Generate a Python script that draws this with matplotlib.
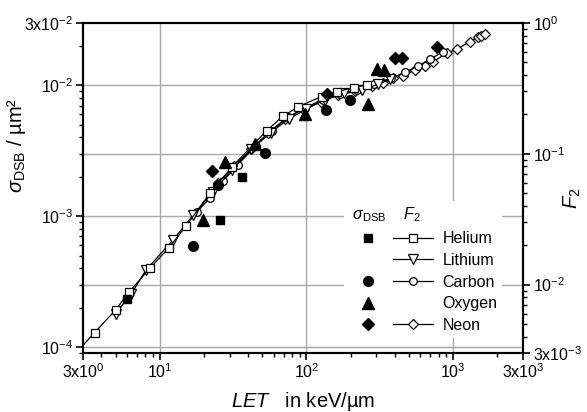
import numpy as np
import matplotlib.pyplot as plt
from matplotlib.lines import Line2D
from matplotlib.legend_handler import HandlerTuple
from matplotlib.ticker import NullFormatter

plt.rcParams['font.family'] = ['Liberation Sans', 'DejaVu Sans']
plt.rcParams['mathtext.fontset'] = 'custom'
plt.rcParams['mathtext.rm'] = 'Liberation Sans'
plt.rcParams['mathtext.it'] = 'Liberation Sans:italic'
plt.rcParams['mathtext.bf'] = 'Liberation Sans:bold'

# F2 (open symbols + line, right axis)
he_let = [2.5, 3.6, 5.0, 6.2, 8.6, 11.5, 15.1, 22, 31, 53.5, 69, 88, 127, 161, 210, 258]
he_f2 = [0.00274, 0.0043, 0.0064, 0.0088, 0.0134, 0.019, 0.028, 0.050, 0.079, 0.150,
         0.193, 0.229, 0.274, 0.299, 0.32, 0.336]

li_let = [5.0, 6.4, 8.1, 12.4, 16.9, 23, 31, 42, 57, 76, 100, 135, 180, 240, 310, 370]
li_f2 = [0.0060, 0.0085, 0.0130, 0.0221, 0.034, 0.051, 0.075, 0.108, 0.145, 0.185,
         0.22, 0.26, 0.29, 0.31, 0.34, 0.37]

c_let = [18, 22, 27, 34, 45, 58, 75, 98, 130, 170, 220, 290, 380, 470, 580, 700, 850]
c_f2 = [0.036, 0.046, 0.062, 0.082, 0.115, 0.15, 0.19, 0.225, 0.26, 0.285, 0.31, 0.34,
        0.38, 0.42, 0.47, 0.53, 0.60]

ne_let = [25, 32, 42, 55, 72, 95, 125, 165, 215, 280, 333, 389, 455, 549, 640, 733, 903,
          1067, 1302, 1474, 1563, 1650]
ne_f2 = [0.060, 0.080, 0.108, 0.145, 0.185, 0.22, 0.25, 0.28, 0.30, 0.33, 0.347, 0.378,
         0.394, 0.438, 0.47, 0.507, 0.587, 0.633, 0.72, 0.778, 0.796, 0.82]

# sigma_DSB (filled symbols, left axis)
he_s_let = [5.95, 25.7, 36.2]
he_s = [2.31e-4, 9.3e-4, 2.0e-3]

c_s_let = [16.9, 24.8, 52.1, 137, 198]
c_s = [5.93e-4, 1.73e-3, 3.04e-3, 6.44e-3, 7.68e-3]

o_s_let = [19.8, 27.7, 44.6, 97.6, 264, 301, 338]
o_s = [9.3e-4, 2.6e-3, 3.54e-3, 6.08e-3, 7.25e-3, 1.34e-2, 1.30e-2]

ne_s_let = [22.6, 139, 402, 446, 780]
ne_s = [2.22e-3, 8.6e-3, 1.61e-2, 1.61e-2, 1.96e-2]

fig = plt.figure(figsize=(5.87, 4.12), dpi=100)
ax = fig.add_axes([0.1414, 0.1432, 0.7496, 0.801])
ax2 = ax.twinx()
ax.set_zorder(ax2.get_zorder() + 1)
ax.patch.set_visible(False)

ax.set_xscale('log')
ax.set_yscale('log')
ax2.set_yscale('log')
ax.set_xlim(3, 3000)
ax.set_ylim(9e-5, 3e-2)
ax2.set_ylim(3e-3, 1)

# grid (drawn on the back axes)
gc = '#a8a8a8'
for xv in [10, 100, 1000]:
    ax2.axvline(xv, color=gc, lw=1.0, zorder=0)
for yv in [1e-4, 1e-3, 1e-2]:
    ax2.axhline(yv / 0.03, color=gc, lw=1.0, zorder=0)
for yv in [1e-2, 1e-1]:
    ax2.axhline(yv, color=gc, lw=1.0, zorder=0)

lkw = dict(color='k', lw=0.9, mfc='white', mec='k', mew=0.9)
ax2.plot(ne_let, ne_f2, marker='D', ms=5.2, **lkw)
ax2.plot(c_let, c_f2, marker='o', ms=5.5, **lkw)
ax2.plot(li_let, li_f2, marker='v', ms=6.5, **lkw)
ax2.plot(he_let, he_f2, marker='s', ms=5.5, **lkw)

ax.plot(he_s_let, he_s, ls='none', marker='s', ms=6, color='k')
ax.plot(c_s_let, c_s, ls='none', marker='o', ms=7, color='k')
ax.plot(o_s_let, o_s, ls='none', marker='^', ms=8, color='k')
ax.plot(ne_s_let, ne_s, ls='none', marker='D', ms=6.5, color='k')

ax.set_xticks([3, 10, 100, 1000, 3000])
ax.set_xticklabels([r'$\mathrm{3x10^{0}}$', r'$\mathrm{10^{1}}$', r'$\mathrm{10^{2}}$',
                    r'$\mathrm{10^{3}}$', r'$\mathrm{3x10^{3}}$'])
ax.set_yticks([1e-4, 1e-3, 1e-2, 3e-2])
ax.set_yticklabels([r'$\mathrm{10^{-4}}$', r'$\mathrm{10^{-3}}$', r'$\mathrm{10^{-2}}$',
                    r'$\mathrm{3x10^{-2}}$'])
ax2.set_yticks([3e-3, 1e-2, 1e-1, 1])
ax2.set_yticklabels([r'$\mathrm{3x10^{-3}}$', r'$\mathrm{10^{-2}}$', r'$\mathrm{10^{-1}}$',
                     r'$\mathrm{10^{0}}$'])
for a in (ax.xaxis, ax.yaxis, ax2.yaxis):
    a.set_minor_formatter(NullFormatter())

for a in (ax, ax2):
    a.tick_params(which='major', direction='out', length=5, width=1.2, labelsize=11.5, pad=2)
    a.tick_params(which='minor', direction='out', length=3, width=1.0)
    for s in a.spines.values():
        s.set_linewidth(1.5)
ax.tick_params(top=False, right=False, which='both')

ax.set_xlabel(r'$\mathit{LET}$   in keV/µm', fontsize=14.5)
ax.xaxis.set_label_coords(0.5, -0.112)
ax.set_ylabel(r'$\sigma_{\mathrm{DSB}}$ / µm²', fontsize=14.5)
ax.yaxis.set_label_coords(-0.125, 0.63)
ax2.set_ylabel(r'$F_{2}$', fontsize=14.5)
ax2.yaxis.set_label_coords(1.088, 0.47)

# legend: sigma_DSB column + F2 column
blank = Line2D([], [], ls='none')
rows = [
    (Line2D([], [], ls='none', marker='s', ms=6, color='k'),
     Line2D([], [], marker='s', ms=5.5, **lkw)),
    (blank, Line2D([], [], marker='v', ms=6.5, **lkw)),
    (Line2D([], [], ls='none', marker='o', ms=7, color='k'),
     Line2D([], [], marker='o', ms=5.5, **lkw)),
    (Line2D([], [], ls='none', marker='^', ms=8, color='k'), blank),
    (Line2D([], [], ls='none', marker='D', ms=6.5, color='k'),
     Line2D([], [], marker='D', ms=5.2, **lkw)),
]
names = ['Helium', 'Lithium', 'Carbon', 'Oxygen', 'Neon']
leg = ax.legend(rows, names, handler_map={tuple: HandlerTuple(ndivide=None, pad=0.3)},
                loc='upper left', bbox_to_anchor=(0.574, 0.485), fontsize=11.5,
                handlelength=5.3, handletextpad=0.6, labelspacing=0.42,
                title=r' $\sigma_{\mathrm{DSB}}$    $F_{2}$', title_fontsize=11.5,
                alignment='left', frameon=True, fancybox=False, borderpad=0.3)
leg.get_frame().set_edgecolor('none')
leg.get_frame().set_facecolor('white')
leg.get_frame().set_alpha(1)

fig.savefig('out.png', dpi=100)
